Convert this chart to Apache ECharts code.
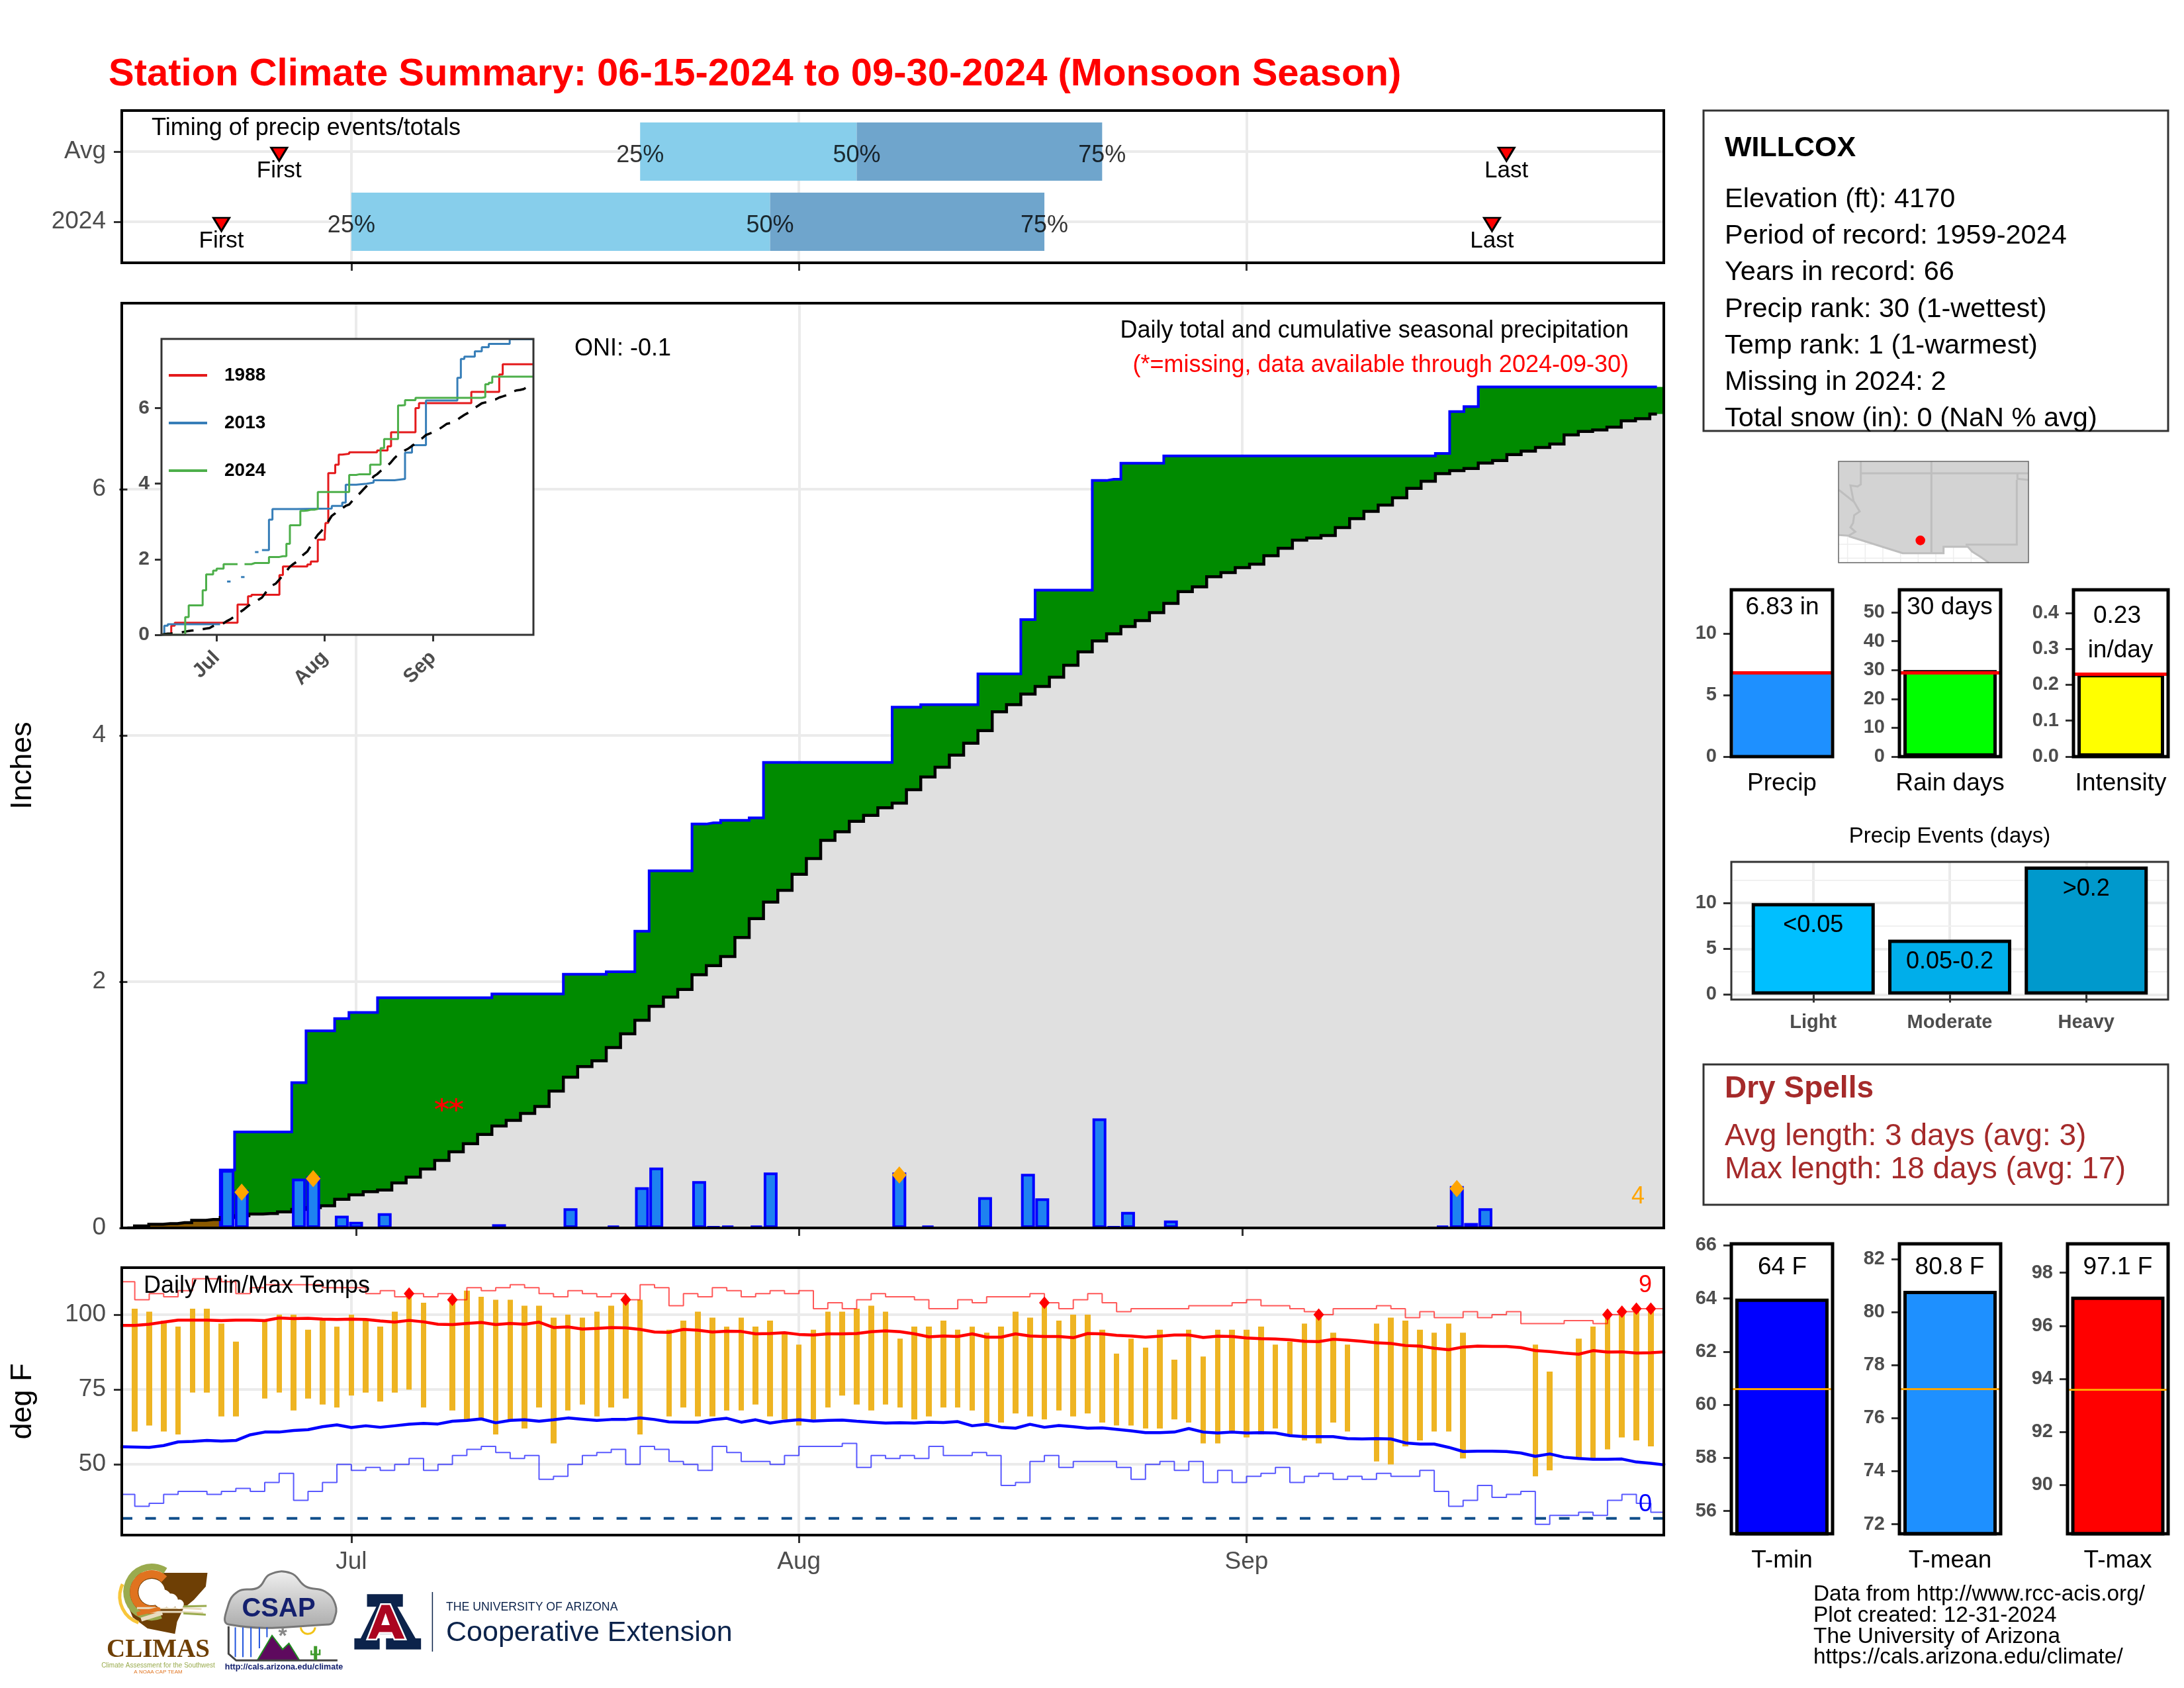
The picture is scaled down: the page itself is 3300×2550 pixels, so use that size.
<!DOCTYPE html>
<html>
<head>
<meta charset="utf-8">
<title>Station Climate Summary</title>
<script src="https://cdn.jsdelivr.net/npm/echarts@6/dist/echarts.min.js"></script>
<style>
	html,body{margin:0;padding:0;background:#fff;}
	#chart{width:3300px;height:2550px;}
</style>
</head>
<body>
<div id="chart"></div>
<script>
/* all day numbers count from 06-15 = 0 */
const monthDays = [16,47,78];
const monthNames = ["Jul","Aug","Sep"];

/* timing strip, rows: 2 = Avg, 1 = 2024 */
const timingRows = [2,1];
const timingNames = {1:"2024",2:"Avg"};
const firstDays = [11,7];
const lastDays = [96,95];
const p25Days = [36,16];
const p50Days = [51,45];
const p75Days = [68,64];

/* daily precip, 2024, inches: [day,amount] */
const dailyPrecip = [[7,.47],[8,.31],[12,.40],[13,.42],[15,.10],[16,.05],[18,.12],[26,.03],[31,.16],[34,.02],
	[36,.33],[37,.49],[40,.38],[41,.01],[42,.02],[44,.02],[45,.45],[54,.45],[56,.02],[60,.25],[63,.44],[64,.24],
	[68,.89],[69,.01],[70,.13],[73,.06],[92,.02],[93,.34],[94,.04],[95,.16]];

/* average cumulative precip, days 0..107 */
const avgCum = [0,.016,.03,.035,.043,.062,.068,.085,.1,.113,
	.117,.13,.15,.165,.18,.232,.269,.294,.308,.366,
	.413,.479,.548,.618,.684,.76,.828,.873,.93,.986,
	1.111,1.224,1.31,1.358,1.465,1.576,1.686,1.8,1.875,1.937,
	2.056,2.13,2.204,2.358,2.512,2.646,2.742,2.872,3.0,3.148,
	3.217,3.302,3.35,3.412,3.45,3.559,3.662,3.741,3.84,3.936,
	4.038,4.192,4.25,4.336,4.398,4.473,4.569,4.678,4.767,4.825,
	4.884,4.932,4.997,5.072,5.168,5.206,5.288,5.322,5.363,5.39,
	5.459,5.52,5.585,5.603,5.623,5.688,5.76,5.819,5.87,5.93,
	6.006,6.064,6.126,6.15,6.167,6.212,6.232,6.28,6.308,6.338,
	6.366,6.44,6.469,6.48,6.503,6.555,6.572,6.61];

const heavyDays = [8,13,54,93];
const missingDays = [22,23];
const missingMarkY = 1.0;

/* inset, step points [day,inches], null = gap in the record */
const cum1988 = [[0,0],[3,.24],[4,.32],[22,.8],[25,1.02],[26,1.06],[34,1.58],[35,1.81],[42,1.86],[43,1.94],[45,2.52],
	[47,2.63],[47.2,2.96],[48,4.28],[50,4.5],[51,4.77],[52,4.79],[54,4.83],[62,4.88],[65,4.99],[66,5.36],[73,6.0],
	[74,6.13],[89,6.43],[97,6.89],[98,7.16],[107,7.16]];
const cum2013 = [[0,0],[1,.24],[2,.28],[17,.28],[17.1,null],[19,1.41],[20,1.41],[20.1,null],[23,1.53],[24,1.53],[24.1,null],
	[27,2.19],[28,2.19],[28.1,null],[29,2.24],[31,3.05],[32,3.33],[39,3.34],[49,3.41],[52,3.5],[53,3.97],[56,4.0],[59,4.03],
	[61,4.09],[67,4.125],[70,4.82],[72,5.02],[76,6.2],[85,6.8],[86,7.3],[87,7.36],[90,7.5],[92,7.61],[94,7.7],[100,7.82],[107,7.82]];

/* season totals panels */
const precipTotal = 6.83, precipMark = 6.83;
const rainDays = 30, rainMark = 29.1;
const intensity = 0.23, intensityMark = 0.232;
const eventNames = ["Light","Moderate","Heavy"];
const eventDays = [10,6,14];
const eventRanges = ["<0.05","0.05-0.2",">0.2"];
const eventColors = ["#00BFFF","#00AEEA","#0099CC"];
const tempMeans = [64,80.8,97.1];
const tempMarks = [60.6,77.1,93.6];

/* daily temps, deg F, days 1..106 */
const tMax = [102,101,98,96,102,102,97,91,null,98,
	100,100,95,98,96,100,98,96,101,107,
	104,null,105,108,106,105,105,103,103,99,
	100,99,101,103,105,105,null,95,98,101,
	99,96,99,96,98,94,90,95,101,101,
	102,103,101,92,96,96,98,95,96,94,
	96,101,99,104,98,100,100,95,87,92,
	89,95,85,95,86,95,95,95,96,90,
	91,97,100,94,90,null,97,99,98,95,
	94,97,94,null,null,null,null,90,81,null,
	92,96,100,101,102,102];
const tMin = [61,63,61,60,74,74,66,66,null,72,
	74,68,72,70,69,73,74,71,74,75,
	69,null,68,65,65,60,65,62,69,57,
	68,70,66,69,72,60,null,66,69,66,
	66,68,68,70,66,65,63,65,69,73,
	70,68,70,69,65,66,69,69,68,64,
	64,67,66,65,68,66,67,64,63,63,
	62,62,65,64,57,57,61,59,60,62,
	60,58,57,64,61,null,51,50,56,58,
	61,61,52,null,null,null,null,46,48,null,
	52,52,55,59,58,56];

/* average max/min, days 0..107 */
const avgMax = [96.4,96.4,96.8,97.5,98.2,98.2,98.2,98,98.2,98.2,
	98,98.9,98.7,98.8,98.5,98.4,98.5,98.4,97.9,97.5,
	98.1,97.6,96.8,96.7,97.1,97.4,96.7,97.1,96.8,97.5,
	95.7,95.9,95.2,95.4,95.7,95.6,95.1,94.2,94.1,95.1,
	94.8,94.2,94.5,94.4,93.6,93.7,94,93.4,93.2,93.6,
	93.6,93.7,94.3,94.6,94.3,93.6,92.6,92.9,92.7,93.6,
	92.5,92.5,93.6,92.9,92.7,92.7,92.3,93.7,93.6,93.1,
	92.9,92.5,92.8,93.2,93.2,92.4,92.8,92.7,92.2,92,
	91.9,91.6,91.1,91,91.8,91.5,91.1,90.6,90.4,89.7,
	89.5,88.8,88.3,89.2,89.5,89.4,89.4,89,88,87.7,
	87.2,86.8,88,87.5,87.6,87.2,87.3,87.6];
const avgMin = [55.9,55.8,55.7,56.3,57.5,57.7,58,57.8,58,59.9,
	60.8,60.8,61.3,61.6,62.6,63.2,62.3,62.9,62.4,62.9,
	63.4,63.7,63.5,64.4,64.7,65.2,63.9,64.7,64.9,64.4,
	64.9,65.5,65.1,64.7,65,65,65.5,65,64.2,64.1,
	64.1,64.9,65.4,64.1,64.9,63.8,64.5,64.9,64.5,64.7,
	64.8,64.4,64.1,63.8,63.9,63.8,64.1,64,64.3,62.9,
	63.4,62.4,62.1,63.4,62.4,63,62.6,62.1,62.2,61.7,
	61.2,60.6,60.6,60.8,62,60.8,60.5,60.8,60.5,60.6,
	60.5,59.6,59.3,59.3,59.3,58.6,58.5,58.6,58.5,57.2,
	56.8,56.8,55.7,54.3,54.4,54.4,54.3,53.8,52.7,53.5,
	52.4,52,51.7,51.7,51.8,50.8,50.4,49.8];

/* record high/low, days 0..106 */
const recHigh = [111,105,107,106,108,112,112,111,107,109,
	110,110,110,110,109,109,109,107,108,106,
	107,106,107,105,109,108,109,110,109,107,
	106,108,107,106,107,105,110,109,103,107,
	106,109,108,106,107,108,107,108,102,104,
	102,105,107,106,106,105,102,102,105,104,
	106,106,106,107,104,102,105,107,104,101,
	102,102,102,102,103,103,103,104,105,103,
	103,102,101,100,102,102,102,103,102,99,
	101,99,99,101,99,100,101,97,97,97,
	98,98,97,100,101,102,102];
const recLow = [40,36,37,40,41,41,40,41,42,41,
	44,47,38,41,44,50,48,49,48,50,
	52,48,50,53,55,56,54,52,53,45,
	46,50,53,54,55,50,56,55,51,50,
	48,56,54,51,51,50,53,56,56,56,
	57,49,53,52,53,52,56,53,53,54,
	53,43,44,51,53,49,51,51,51,49,
	45,50,51,48,51,44,48,44,46,47,
	49,44,46,47,45,46,45,47,46,46,
	48,41,36,38,43,39,40,41,30,33,
	33,34,33,38,40,37,34];
const freezeLine = 32;

const infoLines = ["Elevation (ft): 4170","Period of record: 1959-2024","Years in record: 66","Precip rank: 30 (1-wettest)",
	"Temp rank: 1 (1-warmest)","Missing in 2024: 2","Total snow (in): 0 (NaN % avg)"];
const drySpellLines = ["Avg length: 3 days (avg: 3)","Max length: 18 days (avg: 17)"];
const creditLines = ["Data from http://www.rcc-acis.org/","Plot created: 12-31-2024","The University of Arizona","https://cals.arizona.edu/climate/"];

const FONT = '"Liberation Sans"';
const GRID_LINE = "#EBEBEB", TICK = "#333", AXIS_TEXT = "#4D4D4D";

/* panel rectangles */
const panels = {
	timing:{left:184,top:167,width:2330,height:230},
	main:{left:184,top:458,width:2330,height:1397},
	temps:{left:184,top:1915,width:2330,height:404},
	inset:{left:244,top:512,width:562,height:447},
	precip:{left:2616,top:891,width:153,height:252},
	rain:{left:2870,top:891,width:153,height:252},
	rate:{left:3133,top:891,width:143,height:252},
	events:{left:2616,top:1302,width:660,height:208},
	tmin:{left:2616,top:1879,width:153,height:438},
	tmean:{left:2870,top:1879,width:153,height:438},
	tmax:{left:3124,top:1879,width:152,height:438}
};
const panelKeys = Object.keys(panels);
const gridOf = key => panelKeys.indexOf(key);

/* derived series */
const precipByDay = avgCum.map(()=>0);
dailyPrecip.forEach(([d,v])=>{precipByDay[d]=v;});
const cum2024 = [];
precipByDay.reduce((sum,v,i)=>{cum2024[i]=+(sum+v).toFixed(2);return cum2024[i];},0);

const greyBand = [], greenBand = [], brownBand = [];
avgCum.forEach((avg,d)=>{
	const cum = cum2024[d];
	greyBand.push([d,0,Math.min(avg,cum)]);
	if(cum>avg) greenBand.push([d,avg,cum]);
	if(avg>cum) brownBand.push([d,cum,avg]);
});

const inset2024 = [];
cum2024.forEach((v,d)=>{
	if(missingDays.includes(d)){
		if(!missingDays.includes(d-1)) inset2024.push([d,cum2024[d-1]]);
		inset2024.push([d+.1,null]);
	}else{
		inset2024.push([d,v]);
	}
});

const tempBars = [];
tMax.forEach((v,i)=>{ if(v!==null) tempBars.push([i+1,tMin[i],v]); });
const recordDays = [];
tMax.forEach((v,i)=>{ if(v!==null && v>=recHigh[i+1]) recordDays.push([i+1,v]); });
const lowRecords = [];
tMin.forEach((v,i)=>{ if(v!==null && v<=recLow[i+1]) lowRecords.push([i+1,v]); });

const pairs = arr => arr.map((v,i)=>[i,v]);
/* the record line holds its last value up to the panel edge */
const stepPairs = arr => pairs(arr).concat([[arr.length,arr[arr.length-1]]]);

/* rectangles through the axis scales, x snapped so neighbours leave no seam */
function bandRender(halfDay,fill){
	return function(params,api){
		const a = api.coord([api.value(0)-halfDay,api.value(2)]);
		const b = api.coord([api.value(0)+halfDay,api.value(1)]);
		const x0 = Math.round(a[0]), x1 = Math.round(b[0]);
		return {type:"rect",shape:{x:x0,y:a[1],width:x1-x0,height:b[1]-a[1]},style:{fill}};
	};
}
function timingRender(fill){
	return function(params,api){
		const a = api.coord([api.value(0),api.value(2)+.415]);
		const b = api.coord([api.value(1),api.value(2)-.415]);
		return {type:"rect",shape:{x:a[0],y:a[1],width:b[0]-a[0],height:b[1]-a[1]},style:{fill}};
	};
}

/* axes helpers */
function xValueAxis(key,min,max,ticks,labels,extra){
	const grid = gridOf(key);
	return Object.assign({
		type:"value",gridIndex:grid,min,max,containShape:false,
		axisLine:{show:false},
		axisTick:{show:true,length:12,lineStyle:{color:TICK,width:3},customValues:ticks},
		axisLabel:labels ? {show:true,customValues:ticks,color:AXIS_TEXT,fontSize:37,margin:22,fontFamily:FONT,
			formatter:v=>labels[ticks.indexOf(v)]} : {show:false},
		splitLine:{show:true,lineStyle:{color:GRID_LINE,width:4}}
	},extra||{});
}
function yValueAxis(key,min,max,ticks,labelFn,extra){
	const grid = gridOf(key);
	return Object.assign({
		type:"value",gridIndex:grid,min,max,
		axisLine:{show:false},
		axisTick:{show:true,length:12,lineStyle:{color:TICK,width:3},customValues:ticks},
		axisLabel:{show:true,customValues:ticks,color:AXIS_TEXT,fontSize:37,margin:24,padding:[12,0,0,0],fontFamily:FONT,
			formatter:labelFn || (v=>String(v))},
		splitLine:{show:true,lineStyle:{color:GRID_LINE,width:4}}
	},extra||{});
}

const xAxes = [
	xValueAxis("timing",.1,106.9,monthDays),
	xValueAxis("main",-.39,107.48,monthDays),
	xValueAxis("temps",.1,106.9,monthDays,monthNames),
	xValueAxis("inset",.2,106.8,monthDays,monthNames,{z:3,splitLine:{show:false},
		axisTick:{show:true,length:10,lineStyle:{color:TICK,width:3},customValues:monthDays},
		axisLabel:{show:true,customValues:monthDays,color:AXIS_TEXT,fontSize:30,fontWeight:"bold",rotate:45,margin:30,fontFamily:FONT,
			formatter:v=>monthNames[monthDays.indexOf(v)]}})
];
const yAxes = [
	yValueAxis("timing",.415,2.585,timingRows,v=>timingNames[v]),
	yValueAxis("main",0,7.51,[0,2,4,6],null,{name:"Inches",nameLocation:"middle",nameGap:127,nameRotate:90,
		nameTextStyle:{color:"#000",fontSize:45,fontFamily:FONT}}),
	yValueAxis("temps",26.4,115.7,[50,75,100],null,{name:"deg F",nameLocation:"middle",nameGap:127,nameRotate:90,
		nameTextStyle:{color:"#000",fontSize:45,fontFamily:FONT}}),
	yValueAxis("inset",0,7.83,[0,2,4,6],null,{z:3,splitLine:{show:false},
		axisTick:{show:true,length:10,lineStyle:{color:TICK,width:3},customValues:[0,2,4,6]},
		axisLabel:{show:true,customValues:[0,2,4,6],color:AXIS_TEXT,fontSize:30,fontWeight:"bold",margin:18,fontFamily:FONT}})
];

/* small bar panels */
const smallLabel = {color:AXIS_TEXT,fontSize:29,fontWeight:"bold",margin:22,fontFamily:FONT};
function smallPanel(key,name,value,mark,min,max,ticks,digits,fill,barWidth,border,markColor,markWidth){
	const axisIndex = xAxes.length;
	xAxes.push({type:"category",gridIndex:gridOf(key),data:[name],
		axisLine:{show:false},axisTick:{show:false},
		axisLabel:{show:true,color:"#000",fontSize:37,margin:22,fontFamily:FONT}});
	yAxes.push(yValueAxis(key,min,max,ticks,v=>v.toFixed(digits),{splitLine:{show:false},
		axisLabel:Object.assign({show:true,customValues:ticks,formatter:v=>v.toFixed(digits)},smallLabel)}));
	return {type:"bar",xAxisIndex:axisIndex,yAxisIndex:axisIndex,barWidth,data:[value],z:3,
		itemStyle:{color:fill,borderColor:"#000",borderWidth:border},
		markLine:{silent:true,symbol:"none",label:{show:false},lineStyle:{color:markColor,width:markWidth,type:"solid"},data:[{yAxis:mark}]}};
}
const smallSeries = [
	smallPanel("precip","Precip",precipTotal,precipMark,0,13.55,[0,5,10],0,"#1E90FF",148,0,"#FF0000",5),
	smallPanel("rain","Rain days",rainDays,rainMark,0,57.8,[0,10,20,30,40,50],0,"#00FF00",141,5,"#FF0000",5),
	smallPanel("rate","Intensity",intensity,intensityMark,0,.4645,[0,.1,.2,.3,.4],1,"#FFFF00",131,5,"#FF0000",5),
	smallPanel("tmin","T-min",tempMeans[0],tempMarks[0],55.14,66.06,[56,58,60,62,64,66],0,"#0000FF",141,5,"#FFA500",3),
	smallPanel("tmean","T-mean",tempMeans[1],tempMarks[1],71.64,82.57,[72,74,76,78,80,82],0,"#1E90FF",141,5,"#FFA500",3),
	smallPanel("tmax","T-max",tempMeans[2],tempMarks[2],88.16,99.09,[90,92,94,96,98],0,"#FF0000",141,5,"#FFA500",3)
];

/* precip events panel, axes on a 1..3 value scale */
const eventIndex = xAxes.length;
const eventTicks = eventNames.map((n,i)=>i+1);
xAxes.push(xValueAxis("events",.4,3.6,eventTicks,eventNames,{
	axisLabel:Object.assign({show:true,customValues:eventTicks,formatter:v=>eventNames[v-1]},smallLabel,{margin:20})}));
yAxes.push(yValueAxis("events",-.55,14.5,[0,5,10],null,{
	axisLabel:Object.assign({show:true,customValues:[0,5,10]},smallLabel)}));
const eventSeries = [
	{type:"bar",xAxisIndex:eventIndex,yAxisIndex:eventIndex,barWidth:186,z:3,
		data:eventDays.map((v,i)=>({value:[i+1,v],itemStyle:{color:eventColors[i]},
			label:{formatter:eventRanges[i]}})),
		itemStyle:{borderColor:"#000",borderWidth:5},
		label:{show:true,position:"insideTop",distance:16,color:"#000",fontSize:36,fontFamily:FONT},
		markLine:{silent:true,symbol:"none",z:1,label:{show:false},lineStyle:{color:"#F0F0F0",width:2,type:"solid"},
			data:[{yAxis:2.5},{yAxis:7.5},{yAxis:12.5}]}}
];

/* fixed text and frames */
function text(str,x,y,size,opts){
	opts = opts||{};
	return {type:"text",x,y:y+3,z:opts.z||60,silent:true,style:{text:str,fill:opts.color||"#000",
		font:(opts.bold?"bold ":"")+size+"px "+(opts.family||FONT),
		textAlign:opts.align||"left",textVerticalAlign:"middle"}};
}
function frame(key,color,width){
	const p = panels[key];
	return {type:"rect",z:50,silent:true,shape:{x:p.left,y:p.top,width:p.width,height:p.height},
		style:{fill:"none",stroke:color,lineWidth:width}};
}
function box(x,y,w,h){
	return {type:"rect",z:50,silent:true,shape:{x,y,width:w,height:h},style:{fill:"none",stroke:"#333",lineWidth:3}};
}

const graphics = [
	/* white backing of the inset, above the main gridlines */
	{type:"rect",z:1,silent:true,shape:{x:panels.inset.left,y:panels.inset.top,width:panels.inset.width,height:panels.inset.height},style:{fill:"#fff"}},
	text("Station Climate Summary: 06-15-2024 to 09-30-2024 (Monsoon Season)",164,110,58,{bold:true,color:"#FF0000"}),
	text("Timing of precip events/totals",229,191,36),
	text("Daily total and cumulative seasonal precipitation",2461,497,36,{align:"right"}),
	text("(*=missing, data available through 2024-09-30)",2461,549,36,{align:"right",color:"#FF0000"}),
	text("ONI: -0.1",868,524,36),
	text(String(heavyDays.length),2475,1805,36,{color:"#FFA500",align:"center"}),
	text("Daily Min/Max Temps",217,1940,36),
	text(String(recordDays.length),2486,1939,36,{color:"#FF0000",align:"center"}),
	text(String(lowRecords.length),2486,2270,36,{color:"#0000FF",align:"center"}),
	box(2574,167,702,484),
	text("WILLCOX",2606,221,43,{bold:true}),
	box(2574,1608,702,212),
	text("Dry Spells",2606,1642,46,{bold:true,color:"#A52A2A"}),
	text(precipTotal+" in",2693,915,37,{align:"center"}),
	text(rainDays+" days",2946,915,37,{align:"center"}),
	text(String(intensity),3199,928,37,{align:"center"}),
	text("in/day",3204,980,37,{align:"center"}),
	text("Precip Events (days)",2946,1261,33,{align:"center"}),
	text(tempMeans[0]+" F",2693,1912,37,{align:"center"}),
	text(tempMeans[1]+" F",2946,1912,37,{align:"center"}),
	text(tempMeans[2]+" F",3200,1912,37,{align:"center"})
];
infoLines.forEach((line,i)=>graphics.push(text(line,2606,298.6+i*55.2,41.5)));
drySpellLines.forEach((line,i)=>graphics.push(text(line,2606,1714+i*50,46,{color:"#A52A2A"})));
creditLines.forEach((line,i)=>graphics.push(text(line,2740,2406+i*31.7,33.4)));
["timing","main","temps"].forEach(k=>graphics.push(frame(k,"#000",4)));
graphics.push(frame("inset","#333",3));
["precip","rain","rate","tmin","tmean","tmax"].forEach(k=>graphics.push(frame(k,"#000",5)));
graphics.push(frame("events","#333",3));

/* locator map, zoomed crop coordinates */
const mapPt = (x,y)=>[2760+x/3,690+y/3];
const mapPts = list => list.map(p=>mapPt(p[0],p[1]));
function mapLine(list){
	return {type:"polyline",z:42,silent:true,shape:{points:mapPts(list)},style:{fill:"none",stroke:"#BEBEBE",lineWidth:3}};
}
[[55,397,915,397],[55,460,915,460],[95,355,95,480],[175,355,175,480],[255,355,255,480],[335,355,335,480],
	[415,355,415,480],[495,355,495,480],[575,355,575,480],[655,355,655,480]].forEach(l=>{
	graphics.push({type:"polyline",z:40,silent:true,shape:{points:mapPts([[l[0],l[1]],[l[2],l[3]]])},style:{fill:"none",stroke:"#EEE",lineWidth:1.5}});
});
graphics.push({type:"polygon",z:41,silent:true,shape:{points:mapPts([[55,22],[915,22],[915,480],[735,480],[700,455],[660,430],[640,408],[530,408],[530,437],[345,437],[100,360],[55,355]])},style:{fill:"#D3D3D3"}});
graphics.push(mapLine([[155,75],[915,75]]));
graphics.push(mapLine([[155,22],[155,125],[140,135],[108,130],[122,200],[150,248],[125,265],[120,300],[108,320],[130,340],[100,358],[55,355]]));
graphics.push(mapLine([[55,150],[125,205]]));
graphics.push(mapLine([[475,22],[475,437]]));
graphics.push(mapLine([[865,75],[865,100],[915,105]]));
graphics.push(mapLine([[862,105],[862,398],[630,398]]));
graphics.push(mapLine([[100,360],[345,437],[530,437],[530,408],[640,408],[660,430],[700,455],[735,480]]));
graphics.push({type:"circle",z:43,silent:true,shape:{cx:mapPt(425,0)[0],cy:mapPt(0,379)[1],r:7.3},style:{fill:"#FF0000"}});
graphics.push({type:"rect",z:44,silent:true,shape:{x:2778,y:697,width:287,height:153},style:{fill:"none",stroke:"#666",lineWidth:1.5}});

/* logos, zoomed crop coordinates */
const logoPt = (x,y)=>[140+x/1.568,2340+y/3];
const logoPts = list => list.map(p=>logoPt(p[0],p[1]));
function poly(list,fill,extra){
	return Object.assign({type:"polygon",z:45,silent:true,shape:{points:logoPts(list)},style:Object.assign({fill},extra||{})});
}
function strokeLine(list,color,width){
	return {type:"polyline",z:46,silent:true,shape:{points:logoPts(list)},style:{fill:"none",stroke:color,lineWidth:width}};
}
function arc(x,y,r,from,to,color,width){
	const c = logoPt(x,y);
	return {type:"arc",z:46,silent:true,shape:{cx:c[0],cy:c[1],r,startAngle:from,endAngle:to},style:{fill:"none",stroke:color,lineWidth:width}};
}
function dot(x,y,r,fill){
	const c = logoPt(x,y);
	return {type:"circle",z:47,silent:true,shape:{cx:c[0],cy:c[1],r},style:{fill}};
}
graphics.push(
	/* CLIMAS */
	poly([[110,108],[272,108],[268,170],[240,230],[215,270],[200,330],[195,385],[130,360],[95,310],[80,240],[85,170]],"#6E3F05"),
	arc(140,195,38,1.2,-1.0,"#9AAB4E",10),
	arc(140,195,27,1.3,-0.8,"#E0731F",12),
	arc(130,215,42,1.9,3.6,"#F8C63A",5),
	dot(140,195,20,"#fff"),dot(185,235,11,"#fff"),dot(165,225,14,"#fff"),dot(205,250,7,"#fff"),
	strokeLine([[105,268],[215,268],[258,272]],"#E8DCC0",3),
	strokeLine([[130,285],[215,285],[262,290]],"#E8DCC0",3),
	strokeLine([[105,295],[160,270]],"#E0731F",6),
	strokeLine([[115,320],[165,290]],"#E8DCC0",6),
	strokeLine([[215,260],[270,258]],"#9AAB4E",3),
	strokeLine([[215,292],[268,298]],"#9AAB4E",3),
	text("CLIMAS",239,2490,39,{family:'"Liberation Serif"',bold:true,color:"#6E3F05",align:"center"}),
	text("Climate Assessment for the Southwest",239,2513,10,{color:"#9AAB4E",align:"center"}),
	text("A NOAA CAP TEAM",239,2523,8,{color:"#E0731F",align:"center"}),
	/* CSAP */
	{type:"polygon",z:45,silent:true,shape:{smooth:.45,points:logoPts([[322,342],[320,262],[345,192],[392,175],[420,115],[470,110],[505,170],[550,192],[575,252],[572,320],[560,342]])},
		style:{fill:new echarts.graphic.LinearGradient(0,0,0,1,[{offset:0,color:"#F0F0F0"},{offset:1,color:"#AAA"}]),stroke:"#777",lineWidth:3}},
	text("CSAP",421,2428,40,{bold:true,color:"#14206E",align:"center"}),
	strokeLine([[322,350],[322,475],[340,505],[580,505]],"#444",3),
	strokeLine([[338,355],[338,490]],"#2255DD",2),
	strokeLine([[356,355],[356,490]],"#2255DD",2),
	strokeLine([[375,355],[375,490]],"#2255DD",2),
	strokeLine([[395,355],[395,450]],"#2255DD",2),
	strokeLine([[413,355],[413,400]],"#2255DD",2),
	poly([[390,505],[425,392],[450,455],[465,428],[490,505]],"#5E0A5E",{stroke:"#1E8A1E",lineWidth:2}),
	text("*",427,2470,34,{bold:true,color:"#888",align:"center"}),
	arc(510,352,11,0.1,Math.PI-.1,"#F2C318",3),
	strokeLine([[528,440],[528,503]],"#3F9A2A",5),
	strokeLine([[518,460],[518,478],[538,478],[538,455]],"#3F9A2A",2.5),
	text("http://cals.arizona.edu/climate",429,2516,12.5,{bold:true,color:"#14206E",align:"center"}),
	/* UA */
	poly([[650,205],[735,205],[735,262],[722,262],[765,405],[778,405],[778,455],[695,455],[695,405],[712,405],[708,385],[665,385],[660,405],[680,405],[680,455],[620,455],[620,405],[635,405],[672,262],[650,262]],"#0C234B"),
	poly([[683,250],[705,250],[742,410],[715,410],[708,380],[680,380],[672,410],[650,410]],"#AB0520",{stroke:"#fff",lineWidth:2.5}),
	poly([[684,345],[704,345],[694,290]],"#fff"),
	strokeLine([[805,195],[805,465]],"#0C234B",1.5),
	text("THE UNIVERSITY OF ARIZONA",674,2425,17.7,{color:"#0C234B"}),
	text("Cooperative Extension",674,2464,43,{color:"#0C234B"})
);

const mainGridAxis = 1, tempAxis = 2, insetAxis = 3, timingAxis = 0;

const series = [
	/* timing strip */
	{type:"custom",xAxisIndex:timingAxis,yAxisIndex:timingAxis,z:2,clip:true,renderItem:timingRender("#87CEEB"),
		data:timingRows.map((r,i)=>[p25Days[i],p50Days[i],r])},
	{type:"custom",xAxisIndex:timingAxis,yAxisIndex:timingAxis,z:2,clip:true,renderItem:timingRender("#6FA5CC"),
		data:timingRows.map((r,i)=>[p50Days[i],p75Days[i],r])},
	{type:"scatter",xAxisIndex:timingAxis,yAxisIndex:timingAxis,z:5,symbol:"triangle",symbolRotate:180,symbolSize:[24,20],symbolOffset:[0,4],
		itemStyle:{color:"#FF0000",borderColor:"#000",borderWidth:3,opacity:1},
		label:{show:true,position:"bottom",distance:-4,formatter:"First",color:"#000",fontSize:35,fontFamily:FONT},
		data:timingRows.map((r,i)=>[firstDays[i],r])},
	{type:"scatter",xAxisIndex:timingAxis,yAxisIndex:timingAxis,z:5,symbol:"triangle",symbolRotate:180,symbolSize:[24,20],symbolOffset:[0,4],
		itemStyle:{color:"#FF0000",borderColor:"#000",borderWidth:3,opacity:1},
		label:{show:true,position:"bottom",distance:-4,formatter:"Last",color:"#000",fontSize:35,fontFamily:FONT},
		data:timingRows.map((r,i)=>[lastDays[i],r])}
].concat([["25%",p25Days],["50%",p50Days],["75%",p75Days]].map(([name,days])=>(
	{type:"scatter",xAxisIndex:timingAxis,yAxisIndex:timingAxis,z:6,symbolSize:1,itemStyle:{color:"transparent"},
		label:{show:true,position:"inside",offset:[0,6],formatter:name,color:"#000",fontSize:36,fontFamily:FONT},
		data:timingRows.map((r,i)=>[days[i],r])}
))).concat([
	/* main precip panel */
	{type:"custom",xAxisIndex:mainGridAxis,yAxisIndex:mainGridAxis,z:2,clip:true,renderItem:bandRender(.5,"#E0E0E0"),data:greyBand},
	{type:"custom",xAxisIndex:mainGridAxis,yAxisIndex:mainGridAxis,z:2,clip:true,renderItem:bandRender(.5,"#008B00"),data:greenBand},
	{type:"custom",xAxisIndex:mainGridAxis,yAxisIndex:mainGridAxis,z:2,clip:true,renderItem:bandRender(.5,"#8B5A00"),data:brownBand},
	{type:"line",xAxisIndex:mainGridAxis,yAxisIndex:mainGridAxis,z:3,step:"middle",showSymbol:false,data:pairs(cum2024),lineStyle:{color:"#0000FF",width:4,join:"miter"}},
	{type:"line",xAxisIndex:mainGridAxis,yAxisIndex:mainGridAxis,z:3,step:"middle",showSymbol:false,data:pairs(avgCum),lineStyle:{color:"#000",width:4.5,join:"miter"}},
	{type:"bar",xAxisIndex:mainGridAxis,yAxisIndex:mainGridAxis,z:4,barWidth:21,data:dailyPrecip,
		itemStyle:{color:"#1E82F0",borderColor:"#0000FF",borderWidth:4}},
	{type:"scatter",xAxisIndex:mainGridAxis,yAxisIndex:mainGridAxis,z:5,symbol:"diamond",symbolSize:[22,26],itemStyle:{color:"#FFA500",opacity:1},
		data:heavyDays.map(d=>[d,precipByDay[d]-.02])},
	{type:"scatter",xAxisIndex:mainGridAxis,yAxisIndex:mainGridAxis,z:5,symbol:"path://M5 0V10M0.7 2.5L9.3 7.5M0.7 7.5L9.3 2.5",symbolSize:20,
		itemStyle:{color:"none",borderColor:"#FF0000",borderWidth:3,opacity:1},
		data:missingDays.map(d=>[d,missingMarkY])},
	/* inset */
	{type:"line",name:"1988",xAxisIndex:insetAxis,yAxisIndex:insetAxis,z:5,step:"end",showSymbol:false,data:cum1988,color:"#E41A1C",lineStyle:{color:"#E41A1C",width:3}},
	{type:"line",name:"2013",xAxisIndex:insetAxis,yAxisIndex:insetAxis,z:5,step:"end",showSymbol:false,connectNulls:false,data:cum2013,color:"#377EB8",lineStyle:{color:"#377EB8",width:3}},
	{type:"line",xAxisIndex:insetAxis,yAxisIndex:insetAxis,z:5,showSymbol:false,data:pairs(avgCum),lineStyle:{color:"#000",width:3.5,type:[18,14]}},
	{type:"line",name:"2024",xAxisIndex:insetAxis,yAxisIndex:insetAxis,z:6,step:"end",showSymbol:false,connectNulls:false,data:inset2024.concat([[107,cum2024[107]]]),color:"#4DAF4A",lineStyle:{color:"#4DAF4A",width:3}},
	/* temperature panel */
	{type:"custom",xAxisIndex:tempAxis,yAxisIndex:tempAxis,z:2,clip:true,renderItem:bandRender(.195,"#EEB422"),data:tempBars},
	{type:"line",xAxisIndex:tempAxis,yAxisIndex:tempAxis,z:3,step:"end",showSymbol:false,data:stepPairs(recHigh),lineStyle:{color:"rgba(255,0,0,.65)",width:2}},
	{type:"line",xAxisIndex:tempAxis,yAxisIndex:tempAxis,z:3,step:"end",showSymbol:false,data:stepPairs(recLow),lineStyle:{color:"rgba(0,0,255,.65)",width:2}},
	{type:"line",xAxisIndex:tempAxis,yAxisIndex:tempAxis,z:3,showSymbol:false,data:pairs(avgMax),lineStyle:{color:"#FF0000",width:4.5}},
	{type:"line",xAxisIndex:tempAxis,yAxisIndex:tempAxis,z:3,showSymbol:false,data:pairs(avgMin),lineStyle:{color:"#0000FF",width:4.5}},
	{type:"line",xAxisIndex:tempAxis,yAxisIndex:tempAxis,z:3,showSymbol:false,data:[[.1,freezeLine],[106.9,freezeLine]],lineStyle:{color:"#104E8B",width:4,type:[16,19.6]}},
	{type:"scatter",xAxisIndex:tempAxis,yAxisIndex:tempAxis,z:5,symbol:"diamond",symbolSize:[16,19],itemStyle:{color:"#FF0000",opacity:1},data:recordDays}
],smallSeries,eventSeries);

const chart = echarts.init(document.getElementById("chart"),null,{width:3300,height:2550,devicePixelRatio:1});
chart.setOption({
	animation:false,
	backgroundColor:"#fff",
	textStyle:{fontFamily:FONT},
	grid:panelKeys.map(k=>Object.assign({containLabel:false},panels[k])),
	xAxis:xAxes,
	yAxis:yAxes,
	legend:{show:true,orient:"vertical",left:250,top:548,itemWidth:58,itemHeight:4,itemGap:44,icon:"rect",z:10,
		data:["1988","2013","2024"],
		textStyle:{color:"#000",fontSize:28,fontWeight:"bold",fontFamily:FONT,padding:[0,0,0,21]}},
	graphic:{elements:graphics},
	series
});
</script>
</body>
</html>
